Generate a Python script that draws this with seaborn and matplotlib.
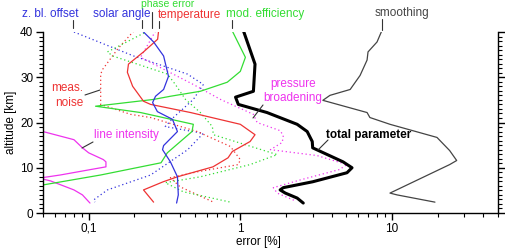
import matplotlib
matplotlib.use("Agg")
import matplotlib.pyplot as plt
from matplotlib.ticker import FixedLocator, LogLocator, NullFormatter, MultipleLocator
import seaborn as sns
import numpy as np

sns.set_theme(style="ticks")
plt.rcParams['font.family'] = ['Liberation Sans', 'DejaVu Sans']

# ---- data (altitude km, error %) ----
total_alt = [40.2, 32.9, 26.9, 25.6, 24.0, 22.2, 19.6, 18.0, 15.8, 14.4, 11.3, 10.0, 8.9, 6.9, 5.6, 5.1, 4.4, 3.3, 2.2]
total_err = [1.05, 1.25, 1.22, 0.93, 0.97, 1.5, 2.37, 2.76, 2.98, 3.0, 4.76, 5.45, 5.05, 3.0, 1.92, 1.83, 1.98, 2.37, 2.6]

smooth_alt = [40.4, 37.8, 35.6, 33.8, 30.4, 27.3, 26.0, 24.9, 22.2, 21.1, 19.6, 16.7, 13.8, 11.6, 10.7, 4.4, 4.0, 2.4]
smooth_err = [8.6, 7.97, 6.95, 6.85, 6.16, 5.3, 3.9, 3.5, 6.85, 7.15, 9.7, 19.8, 24.0, 26.7, 24.0, 9.7, 10.8, 19.2]

modeff_alt = [40.2, 34.4, 31.3, 28.9, 26.9, 25.8, 25.1, 23.6, 22.2, 19.6, 18.0, 13.3, 11.1, 8.4, 6.2, 4.0, 2.2]
modeff_err = [0.886, 1.08, 1.0, 0.82, 0.545, 0.346, 0.268, 0.111, 0.22, 0.49, 0.48, 0.33, 0.30, 0.12, 0.05, 0.03, 0.02]

temp_alt = [40.2, 38.4, 35.6, 32.9, 31.1, 28.0, 24.7, 24.0, 22.2, 19.6, 17.3, 15.8, 13.6, 12.2, 10.2, 8.0, 6.9, 5.1, 2.4]
temp_err = [0.289, 0.285, 0.23, 0.183, 0.18, 0.195, 0.23, 0.256, 0.47, 1.0, 1.25, 1.16, 0.886, 0.83, 0.66, 0.385, 0.31, 0.23, 0.268]

solar_alt = [40.2, 37.8, 34.7, 30.2, 27.3, 25.8, 24.4, 22.4, 20.7, 18.0, 14.9, 14.0, 11.3, 8.0, 4.0, 2.2]
solar_err = [0.227, 0.268, 0.312, 0.336, 0.312, 0.276, 0.264, 0.284, 0.357, 0.385, 0.312, 0.307, 0.346, 0.385, 0.39, 0.38]

lineint_alt = [19.5, 18.0, 16.2, 14.4, 13.3, 11.8, 11.3, 10.2, 9.6, 8.4, 7.7, 7.1, 5.1, 4.0, 2.2]
lineint_err = [0.03, 0.05, 0.08, 0.091, 0.1, 0.125, 0.13, 0.13, 0.103, 0.065, 0.047, 0.056, 0.08, 0.091, 0.102]

press_alt = [40.2, 34.4, 28.4, 25.1, 21.8, 20.0, 18.2, 17.1, 15.6, 14.0, 12.7, 10.7, 9.6, 7.3, 5.6, 4.4, 2.7]
press_err = [0.276, 0.22, 0.49, 0.74, 1.22, 1.29, 1.83, 1.92, 1.89, 1.58, 3.2, 5.05, 4.5, 2.48, 1.65, 1.75, 2.3]

phase_alt = [40.2, 35.6, 34.7, 30.7, 28.4, 25.1, 22.2, 19.1, 17.3, 12.9, 10.7, 8.0, 6.7, 4.7, 2.4]
phase_err = [0.245, 0.133, 0.144, 0.331, 0.373, 0.435, 0.545, 0.654, 0.664, 1.75, 1.16, 0.545, 0.32, 0.42, 0.86]

noise_alt = [40.2, 36.2, 31.8, 30.7, 24.0, 21.8, 21.1, 18.0, 14.7, 11.8, 10.7, 9.1, 7.8, 5.8, 2.4]
noise_err = [0.198, 0.155, 0.124, 0.12, 0.12, 0.189, 0.256, 0.52, 0.86, 1.0, 0.97, 0.52, 0.346, 0.4, 0.665]

zbl_alt = [40.0, 34.7, 30.7, 28.4, 25.1, 21.1, 19.1, 17.6, 14.0, 8.4, 5.1, 2.9, 2.4]
zbl_err = [0.08, 0.198, 0.448, 0.57, 0.49, 0.362, 0.32, 0.57, 0.45, 0.256, 0.133, 0.108, 0.11]

x_ticks = [0.1, 1, 10]
x_ticklabels = ["0,1", "1", "10"]
y_ticks = [0, 10, 20, 30, 40]

BLUE = "#3333dd"
RED = "#ee3333"
GREEN = "#33dd33"
MAG = "#ee33ee"
GREY = "#444444"
DOT = (0, (1, 2.2))

fig = plt.figure(figsize=(5.06, 2.5), dpi=100)
ax = fig.add_axes([43/506, 1-213/250, (498-43)/506, (213-32)/250])

def draw(xs, ys, color, lw=0.9, ls='-'):
    sns.lineplot(x=xs, y=ys, sort=False, estimator=None, color=color,
                 linewidth=lw, linestyle=ls, ax=ax)

draw(zbl_err, zbl_alt, BLUE, 0.9, DOT)
draw(noise_err, noise_alt, RED, 0.9, DOT)
draw(phase_err, phase_alt, GREEN, 0.9, DOT)
draw(press_err, press_alt, MAG, 0.9, DOT)
draw(lineint_err, lineint_alt, MAG)
draw(modeff_err, modeff_alt, GREEN)
draw(temp_err, temp_alt, RED)
draw(solar_err, solar_alt, BLUE)
draw(smooth_err, smooth_alt, GREY)
draw(total_err, total_alt, "black", 2.2)

ax.set_xscale('log')
ax.set_xlim(0.05, 50)
ax.set_ylim(0, 40)
ax.xaxis.set_major_locator(FixedLocator(x_ticks))
ax.set_xticklabels(x_ticklabels)
ax.xaxis.set_minor_locator(LogLocator(base=10, subs=np.arange(2, 10)))
ax.xaxis.set_minor_formatter(NullFormatter())
ax.yaxis.set_major_locator(FixedLocator(y_ticks))
ax.yaxis.set_minor_locator(MultipleLocator(1))

for s in ['left', 'bottom', 'right']:
    ax.spines[s].set_color('black')
    ax.spines[s].set_linewidth(1.0)
ax.spines['top'].set_visible(False)
ax.tick_params(axis='both', which='major', direction='out', length=5, width=1.0,
               labelsize=8.5, colors='black', pad=2)
ax.tick_params(axis='both', which='minor', direction='out', length=3, width=0.8, colors='black')
ax.tick_params(axis='y', which='both', right=True)
ax.set_xlabel("")
ax.set_ylabel("")
ax.grid(False)

# ---- labels (figure pixel coords) ----
def ftxt(px, py, s, color, **kw):
    kw.setdefault('fontsize', 8.5)
    fig.text(px/506, 1-py/250, s, color=color, ha='center', va='center', **kw)

def fline(x0, y0, x1, y1, color="#333333"):
    fig.add_artist(plt.Line2D([x0/506, x1/506], [1-y0/250, 1-y1/250], color=color, linewidth=0.8))

ftxt(258, 242, "error [%]", "black")
ftxt(11, 122, "altitude [km]", "black", rotation=90)

ftxt(50, 14, "z. bl. offset", BLUE)
fline(73, 20, 73, 28)
ftxt(122, 14, "solar angle", BLUE)
fline(142, 20, 142, 28)
ftxt(168, 4, "phase error", GREEN, fontsize=7.5)
fline(152, 12, 152, 28)
ftxt(189, 15, "temperature", RED)
fline(159, 21, 159, 28)
ftxt(265, 14, "mod. efficiency", GREEN)
fline(232, 20, 232, 28)
ftxt(402, 13, "smoothing", GREY)
fline(382, 19, 382, 30)
ftxt(67, 88, "meas.", RED)
ftxt(69, 103, "noise", RED)
fline(85, 95, 100, 90)
ftxt(293, 84, "pressure", MAG)
ftxt(293, 98, "broadening", MAG)
fline(263, 105, 253, 118)
ftxt(369, 135, "total parameter", "black", fontweight='bold')
fline(328, 140, 318, 150)
ftxt(126, 135, "line intensity", MAG)
fline(93, 142, 82, 148)

fig.savefig("out.png", dpi=100)
